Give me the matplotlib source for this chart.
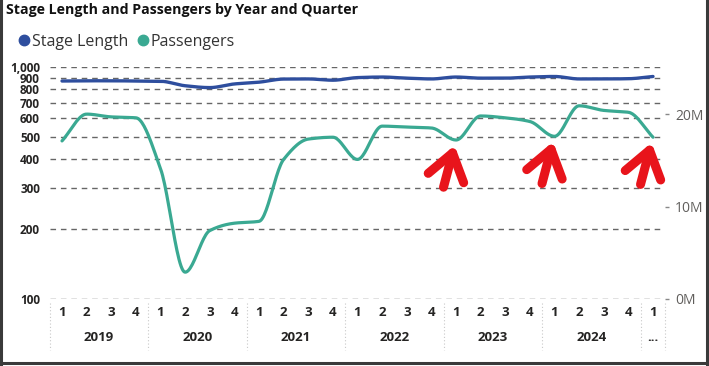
import numpy as np
import matplotlib
matplotlib.use("Agg")
import matplotlib.pyplot as plt
from matplotlib.lines import Line2D
import matplotlib.transforms as mtrans

quarters = ["1", "2", "3", "4"] * 6 + ["1"]
years = ["2019", "2020", "2021", "2022", "2023", "2024", "..."]

stage_length = [870, 872, 872, 870, 868, 830, 815, 845, 860, 887, 888, 877, 900,
                905, 895, 888, 905, 895, 895, 905, 910, 888, 888, 890, 910]
passengers = [17.1, 20.0, 19.7, 19.6, 14.1, 2.9, 7.4, 8.2, 8.4, 15.1, 17.3, 17.5, 15.1,
              18.7, 18.6, 18.5, 17.2, 19.8, 19.6, 19.2, 17.6, 20.9, 20.4, 20.2, 17.5]
passengers = [p * 1e6 for p in passengers]
arrow_at = [16, 20, 24]

left_ticks = [100, 200, 300, 400, 500, 600, 700, 800, 900, 1000]
right_ticks = [0, 10e6, 20e6]
right_labels = ["0M", "10M", "20M"]

blue = "#2E4E9E"
teal = "#3AA992"
dark = "#252423"
grey = "#605E5C"
red = "#E8141B"

plt.rcParams['font.family'] = ['Open Sans', 'DejaVu Sans']


def smooth(y, n=24):
    # monotone cubic (Fritsch-Carlson), only for drawing the line smoothly
    y = np.asarray(y, float)
    x = np.arange(len(y), dtype=float)
    d = np.diff(y)
    m = np.zeros_like(y)
    m[0], m[-1] = d[0], d[-1]
    for i in range(1, len(y) - 1):
        if d[i - 1] * d[i] > 0:
            m[i] = 2 / (1 / d[i - 1] + 1 / d[i])
    xs, ys = [], []
    for i in range(len(y) - 1):
        t = np.linspace(0, 1, n, endpoint=False)
        h00 = 2 * t**3 - 3 * t**2 + 1
        h10 = t**3 - 2 * t**2 + t
        h01 = -2 * t**3 + 3 * t**2
        h11 = t**3 - t**2
        xs.append(x[i] + t)
        ys.append(h00 * y[i] + h10 * m[i] + h01 * y[i + 1] + h11 * m[i + 1])
    xs.append([x[-1]])
    ys.append([y[-1]])
    return np.concatenate(xs), np.concatenate(ys)


fig = plt.figure(figsize=(7.09, 3.66), dpi=100)
ax = fig.add_axes([0.0701, 0.1831, 0.8683, 0.6339])
ax2 = ax.twinx()

ax.set_yscale('log')
ax.set_ylim(100, 1000)
ax.set_yticks(left_ticks)
ax.set_yticklabels([f"{v:,}" for v in left_ticks], fontsize=8.5, fontweight='bold', color=dark)
ax.yaxis.set_minor_locator(matplotlib.ticker.NullLocator())
ax.set_xlim(-0.5, len(quarters) - 0.5)
ax.set_xticks(range(len(quarters)))
ax.set_xticklabels(quarters, fontsize=9.5, fontweight='bold', color=dark)
ax.tick_params(axis='both', length=0)
ax.tick_params(axis='y', pad=7)
ax.tick_params(axis='x', pad=5)
for v in left_ticks:
    ax.axhline(v, color="#666666", lw=1, ls=(0, (4, 3.5)), zorder=0)
for s in ax.spines.values():
    s.set_visible(False)

sx, sy = smooth(np.log10(stage_length))
ax.plot(sx, 10 ** sy, color=blue, lw=2.4, solid_capstyle='round', zorder=3)

ax2.set_ylim(0, 25.1e6)
ax2.set_yticks(right_ticks)
ax2.set_yticklabels(right_labels, fontsize=10, color=grey)
ax2.tick_params(axis='y', length=3, width=1, color="#888888", pad=4)
for s in ax2.spines.values():
    s.set_visible(False)
px, py = smooth(passengers)
ax2.plot(px, py, color=teal, lw=2.3, solid_capstyle='round', zorder=3)

for i in arrow_at:
    ax2.annotate("", xy=(i, passengers[i]), xytext=(-9, -34), textcoords='offset points',
                 arrowprops=dict(arrowstyle="->,head_length=0.85,head_width=0.6", mutation_scale=22,
                                 color=red, lw=6.5, shrinkA=0, shrinkB=4,
                                 capstyle='round', joinstyle='round'))

# year row and separators
tr = mtrans.blended_transform_factory(ax.transData, ax.transAxes)
for k, yr in enumerate(years):
    if yr == "...":
        xc = 24
    else:
        xc = 4 * k + 1.5
    ax.text(xc, -0.164, yr, transform=tr, ha='center', va='center', fontsize=9.5,
            fontweight='bold', color=dark)
for b in [-0.5, 3.5, 7.5, 11.5, 15.5, 19.5, 23.5, 24.5]:
    ax.plot([b, b], [-0.017, -0.22], transform=tr, color="#C8C8C8", lw=0.8,
            ls=(0, (1, 2)), clip_on=False)

fig.text(0.008, 0.972, "Stage Length and Passengers by Year and Quarter", fontsize=10.2,
         fontweight='bold', color="#111111", va='center', ha='left')

handles = [Line2D([], [], marker='o', ls='none', color=blue, markersize=7.5),
           Line2D([], [], marker='o', ls='none', color=teal, markersize=7.5)]
fig.legend(handles, ["Stage Length", "Passengers"], loc='center left',
           bbox_to_anchor=(0.0, 0.885), ncol=2, frameon=False, fontsize=11.5,
           handletextpad=-0.1, columnspacing=0.3, handlelength=1.2,
           labelcolor="#333333")

# screenshot frame
for xs_, ys_ in [([0.002, 0.002], [0, 1]), ([0.997, 0.997], [0, 1]), ([0, 1], [0.008, 0.008])]:
    fig.add_artist(Line2D(xs_, ys_, color="#3a3a3a", lw=2.2, transform=fig.transFigure))

fig.savefig("out.png", dpi=100)
